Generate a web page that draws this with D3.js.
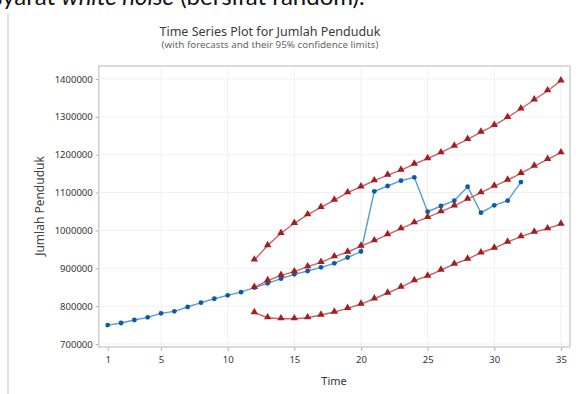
<!DOCTYPE html>
<html>
<head>
<meta charset="utf-8">
<script src="https://cdn.jsdelivr.net/npm/d3@7"></script>
<style>
  body { margin: 0; background: #fff; }
  svg { display: block; }
  text { font-family: "Noto Sans", "Open Sans", sans-serif; }
</style>
</head>
<body>
<script>
// Time series of Jumlah Penduduk with forecasts and 95% limits
var time = d3.range(1, 33),
    actual = [750000, 755500, 763400, 770500, 781000, 786300, 797700, 809100,
              819600, 828500, 837000, 849000, 860300, 872500, 884100, 892800,
              902600, 913100, 928500, 944300, 1103300, 1117300, 1131300, 1140200,
              1049400, 1064500, 1078500, 1115400, 1046800, 1066300, 1078500, 1127800];

var forecastTime = d3.range(12, 36),
    forecast = [849700, 867300, 881400, 891000, 904200, 915800, 930600, 943000,
                958800, 972800, 989000, 1004600, 1020400, 1034600, 1049400, 1065000,
                1083000, 1099600, 1117300, 1133000, 1150800, 1170100, 1187800, 1205300],
    upper = [922000, 960000, 992400, 1018800, 1041500, 1061000, 1080300, 1099600,
             1115400, 1131300, 1146300, 1159500, 1175400, 1190000, 1205300, 1223000,
             1240600, 1259900, 1277600, 1298700, 1321400, 1345200, 1369000, 1395400],
    lower = [783000, 769500, 766900, 766900, 769500, 776600, 784500, 794300,
             805600, 819600, 834700, 850500, 867300, 879600, 895400, 911300,
             924500, 941100, 953500, 969400, 983400, 995800, 1004600, 1017000];

var xTicks = [1, 5, 10, 15, 20, 25, 30, 35],
    yTicks = [700000, 800000, 900000, 1000000, 1100000, 1200000, 1300000, 1400000];

var width = 587, height = 394,
    plot = {left: 98.7, right: 570, top: 66, bottom: 347};

var svg = d3.select('body').append('svg')
  .attr('width', width)
  .attr('height', height);

svg.append('rect').attr('width', width).attr('height', height).attr('fill', '#fff');

// bit of the surrounding document, cut off by the top edge
svg.append('text')
  .attr('x', -8).attr('y', 4.5)
  .attr('font-size', 24)
  .attr('fill', '#111')
  .style('font-family', 'Lato, "Open Sans", sans-serif')
  .html('syarat <tspan font-style="italic">white noise</tspan> (bersifat random).');
svg.append('line')
  .attr('x1', 8).attr('x2', 8).attr('y1', 13).attr('y2', height)
  .attr('stroke', '#e2e2e2').attr('stroke-width', 2);

var x = d3.scaleLinear().domain([0.325, 35.68]).range([plot.left, plot.right]),
    y = d3.scaleLinear().domain([692100, 1434300]).range([plot.bottom, plot.top]);

// grid
var grid = svg.append('g');
grid.selectAll('.gx').data(xTicks.slice(1)).enter().append('line')
  .attr('x1', function(d) { return x(d); }).attr('x2', function(d) { return x(d); })
  .attr('y1', plot.top).attr('y2', plot.bottom)
  .attr('stroke', '#f0f0f0');
grid.selectAll('.gy').data(yTicks).enter().append('line')
  .attr('x1', plot.left).attr('x2', plot.right)
  .attr('y1', function(d) { return y(d); }).attr('y2', function(d) { return y(d); })
  .attr('stroke', '#f0f0f0');

// axes
var xAxis = svg.append('g')
  .attr('transform', 'translate(0,' + plot.bottom + ')')
  .call(d3.axisBottom(x).tickValues(xTicks).tickSize(4).tickPadding(5));
var yAxis = svg.append('g')
  .attr('transform', 'translate(' + plot.left + ',0)')
  .call(d3.axisLeft(y).tickValues(yTicks).tickSize(3).tickPadding(3).tickFormat(d3.format('d')));
[xAxis, yAxis].forEach(function(a) {
  a.select('.domain').remove();
  a.selectAll('line').attr('stroke', '#b0b0b0');
  a.selectAll('text').attr('fill', '#333').attr('font-size', 9.5)
    .style('font-family', '"Noto Sans", sans-serif');
});

// frame
svg.append('rect')
  .attr('x', plot.left).attr('y', plot.top)
  .attr('width', plot.right - plot.left).attr('height', plot.bottom - plot.top)
  .attr('fill', 'none').attr('stroke', '#cfcfcf').attr('stroke-width', 1.5);

// titles
svg.append('text').attr('x', 270).attr('y', 35.5)
  .attr('text-anchor', 'middle').attr('font-size', 12.5).attr('fill', '#3a3a3a')
  .text('Time Series Plot for Jumlah Penduduk');
svg.append('text').attr('x', 270).attr('y', 48)
  .attr('text-anchor', 'middle').attr('font-size', 9.8).attr('fill', '#666')
  .text('(with forecasts and their 95% confidence limits)');
svg.append('text').attr('x', 334).attr('y', 385)
  .attr('text-anchor', 'middle').attr('font-size', 11).attr('fill', '#333')
  .text('Time');
svg.append('text')
  .attr('transform', 'translate(44,206) rotate(-90)')
  .attr('text-anchor', 'middle').attr('font-size', 12).attr('fill', '#444')
  .text('Jumlah Penduduk');

var line = d3.line()
  .x(function(d) { return x(d[0]); })
  .y(function(d) { return y(d[1]); });

var tri = d3.symbol().type(d3.symbolTriangle).size(24);

function redSeries(values) {
  var pts = forecastTime.map(function(t, i) { return [t, values[i]]; });
  var g = svg.append('g');
  g.append('path').datum(pts).attr('d', line)
    .attr('fill', 'none').attr('stroke', '#cc6262').attr('stroke-width', 1.4);
  g.selectAll('path.m').data(pts).enter().append('path')
    .attr('class', 'm')
    .attr('d', tri)
    .attr('transform', function(d) { return 'translate(' + x(d[0]) + ',' + (y(d[1]) - 0.5) + ')'; })
    .attr('fill', '#a31e1e');
}

redSeries(upper);
redSeries(lower);

// actual series
var actualPts = time.map(function(t, i) { return [t, actual[i]]; });
svg.append('path').datum(actualPts).attr('d', line)
  .attr('fill', 'none').attr('stroke', '#5b9bd5').attr('stroke-width', 1.4);
svg.selectAll('circle.a').data(actualPts).enter().append('circle')
  .attr('class', 'a')
  .attr('cx', function(d) { return x(d[0]); })
  .attr('cy', function(d) { return y(d[1]); })
  .attr('r', 2.4)
  .attr('fill', '#0b5aa8');

redSeries(forecast);
</script>
</body>
</html>
